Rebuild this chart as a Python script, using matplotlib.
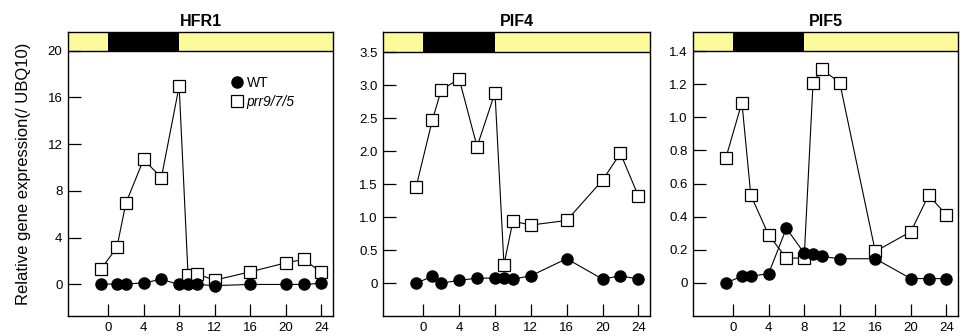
import matplotlib

matplotlib.use("Agg")
import matplotlib.pyplot as plt
from matplotlib.lines import Line2D

plt.rcParams["font.family"] = ["Liberation Sans", "DejaVu Sans"]

# sampling times (h)
times = [-0.8, 1, 2, 4, 6, 8, 9, 10, 12, 16, 20, 22, 24]

titles = ["HFR1", "PIF4", "PIF5"]

hfr1_wt = [0.03, 0.03, 0.03, 0.14, 0.43, 0.0, 0.0, 0.0, -0.1, 0.0, 0.0, 0.0, 0.1]
hfr1_prr = [1.3, 3.17, 6.93, 10.7, 9.13, 16.97, 0.8, 0.88, 0.37, 1.08, 1.85, 2.14, 1.03]

pif4_wt = [0.0, 0.10, 0.0, 0.04, 0.075, 0.075, 0.075, 0.06, 0.11, 0.37, 0.06, 0.11, 0.06]
pif4_prr = [1.46, 2.47, 2.93, 3.10, 2.07, 2.89, 0.28, 0.94, 0.88, 0.95, 1.56, 1.97, 1.32]

pif5_wt = [0.0, 0.04, 0.04, 0.056, 0.33, 0.18, 0.176, 0.16, 0.146, 0.146, 0.026, 0.026, 0.026]
pif5_prr = [0.756, 1.09, 0.53, 0.29, 0.15, 0.15, 1.21, 1.29, 1.21, 0.19, 0.31, 0.53, 0.41]

wt_series = [hfr1_wt, pif4_wt, pif5_wt]
prr_series = [hfr1_prr, pif4_prr, pif5_prr]

# y ranges: (bottom, top of plot area, top of light bar), ticks
y_ranges = [(-2.7, 20.0, 21.6), (-0.5, 3.5, 3.81), (-0.2, 1.4, 1.516)]
y_ticks = [
    ([0, 4, 8, 12, 16, 20], ["0", "4", "8", "12", "16", "20"]),
    ([0, 0.5, 1.0, 1.5, 2.0, 2.5, 3.0, 3.5], ["0", "0.5", "1.0", "1.5", "2.0", "2.5", "3.0", "3.5"]),
    ([0, 0.2, 0.4, 0.6, 0.8, 1.0, 1.2, 1.4], ["0", "0.2", "0.4", "0.6", "0.8", "1.0", "1.2", "1.4"]),
]
x_ticks = [0, 4, 8, 12, 16, 20, 24]
dark_period = (0, 8)

YELLOW = "#fdfa9c"
W, H = 966, 336
panel_px = [(68, 333), (383, 650), (693, 958)]
top_px, bottom_px = 32, 316

fig = plt.figure(figsize=(W / 100, H / 100), dpi=100)

for i in range(3):
    l, r = panel_px[i]
    ax = fig.add_axes([l / W, 1 - bottom_px / H, (r - l) / W, (bottom_px - top_px) / H])
    ybot, ytop, ybar = y_ranges[i]
    xlo, xhi = -4.5, 25.3
    ax.set_xlim(xlo, xhi)
    ax.set_ylim(ybot, ybar)

    # light / dark bar
    ax.fill_between([xlo, xhi], ytop, ybar, color=YELLOW, lw=0, zorder=1)
    ax.fill_between(list(dark_period), ytop, ybar, color="black", lw=0, zorder=1)
    ax.axhline(ytop, color="black", lw=1.0, zorder=2)

    ax.plot(times, prr_series[i], color="black", lw=0.8, marker="s", ms=8,
            mfc="white", mec="black", mew=0.9, zorder=3)
    ax.plot(times, wt_series[i], color="black", lw=0.8, marker="o", ms=8,
            mfc="black", mec="black", zorder=4)

    ax.set_yticks(y_ticks[i][0])
    ax.set_yticklabels(y_ticks[i][1])
    ax.set_xticks(x_ticks)
    ax.tick_params(direction="in", length=9, width=0.9, labelsize=9.5)
    ax.tick_params(axis="y", pad=4)
    ax.tick_params(axis="x", pad=4)
    for s in ax.spines.values():
        s.set_linewidth(1.0)
    ax.set_title(titles[i], fontsize=11.5, fontweight="bold", pad=4)

    if i == 0:
        ax.set_ylabel("Relative gene expression(/ UBQ10)", fontsize=12, labelpad=12)
        handles = [
            Line2D([], [], ls="none", marker="o", ms=8, mfc="black", mec="black"),
            Line2D([], [], ls="none", marker="s", ms=8, mfc="white", mec="black", mew=0.9),
        ]
        leg = ax.legend(handles, ["WT", "prr9/7/5"], loc="upper left",
                        bbox_to_anchor=(0.59, 0.865), frameon=False, fontsize=10,
                        handletextpad=0.2, labelspacing=0.35, handlelength=1.0,
                        borderaxespad=0)
        leg.get_texts()[1].set_style("italic")

fig.savefig("out.png", dpi=100)
